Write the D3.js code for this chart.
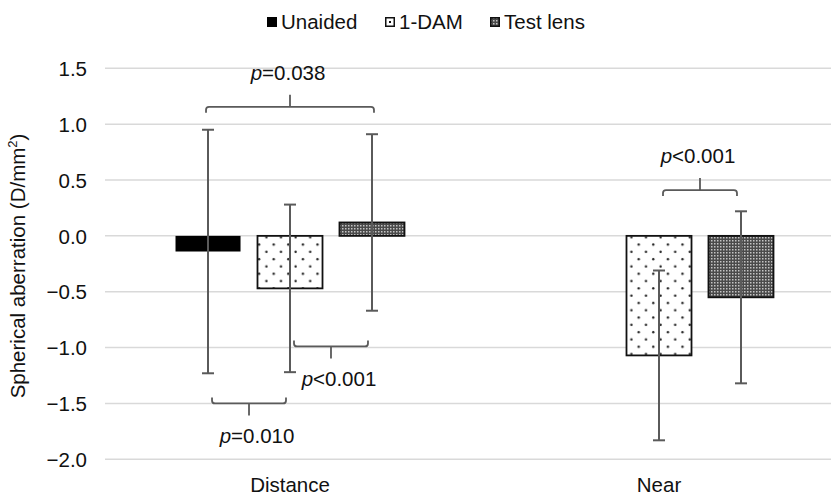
<!DOCTYPE html>
<html>
<head>
<meta charset="utf-8">
<script src="https://cdn.jsdelivr.net/npm/d3@7/dist/d3.min.js"></script>
<style>
  body { margin: 0; background: #fff; }
  text { font-family: "Liberation Sans", Arial, sans-serif; fill: #111; }
</style>
</head>
<body>
<div id="chart"></div>
<script>
// Chart data
var categories = ["Distance", "Near"];
var seriesNames = ["Unaided", "1-DAM", "Test lens"];
var unaidedMean = [-0.14, null];
var unaidedSd = [1.09, null];
var damMean = [-0.47, -1.07];
var damSd = [0.75, 0.76];
var testMean = [0.12, -0.55];
var testSd = [0.79, 0.77];
var yTicks = [-2.0, -1.5, -1.0, -0.5, 0.0, 0.5, 1.0, 1.5];

// significance brackets: category, from series, to series, level, label op, value, side
var bracketCat = ["Distance", "Distance", "Distance", "Near"];
var bracketFrom = ["Unaided", "Unaided", "1-DAM", "1-DAM"];
var bracketTo = ["Test lens", "1-DAM", "Test lens", "Test lens"];
var bracketLevel = [1.155, -1.50, -0.99, 0.41];
var bracketOp = ["=", "=", "<", "<"];
var bracketP = ["0.038", "0.010", "0.001", "0.001"];
var bracketSide = ["up", "down", "down", "up"];

var svgWidth = 831;
var svgHeight = 495;
var fontSize = "20.5px";

var svg = d3.select("#chart")
    .append("svg")
    .attr("width", svgWidth)
    .attr("height", svgHeight);

var defs = svg.append("defs");

// sparse dot pattern for 1-DAM
var dots = defs.append("pattern")
    .attr("id", "dots")
    .attr("patternUnits", "userSpaceOnUse")
    .attr("width", 14.6)
    .attr("height", 14.6);
dots.append("rect").attr("width", 14.6).attr("height", 14.6).attr("fill", "#fff");
dots.append("circle").attr("cx", 3.6).attr("cy", 3.6).attr("r", 1.2).attr("fill", "#222");
dots.append("circle").attr("cx", 10.9).attr("cy", 10.9).attr("r", 1.2).attr("fill", "#222");

// fine checker pattern for Test lens
var fine = defs.append("pattern")
    .attr("id", "fine")
    .attr("patternUnits", "userSpaceOnUse")
    .attr("width", 3)
    .attr("height", 3);
fine.append("rect").attr("width", 3).attr("height", 3).attr("fill", "#4a4a4a");
fine.append("rect").attr("width", 1.5).attr("height", 1.5).attr("fill", "#c4c4c4");

var fills = {"Unaided": "#000", "1-DAM": "url(#dots)", "Test lens": "url(#fine)"};

// Scales
var x0 = d3.scaleBand()
    .domain(categories)
    .range([105.5, 843.5])
    .paddingInner(0);

var x1 = d3.scaleBand()
    .domain(seriesNames)
    .range([0, x0.bandwidth()])
    .paddingInner(0.207)
    .paddingOuter(0.854);

var y = d3.scaleLinear()
    .domain([-2, 1.5])
    .range([459.3, 68.3]);

function cx(cat, s) {
    return x0(cat) + x1(s) + x1.bandwidth() / 2;
}

// Gridlines
svg.append("g")
    .selectAll("line")
    .data(yTicks)
    .enter()
    .append("line")
    .attr("x1", 105)
    .attr("x2", svgWidth)
    .attr("y1", d => y(d))
    .attr("y2", d => y(d))
    .attr("stroke", "#d9d9d9")
    .attr("stroke-width", 1.5);

// Y axis (labels only)
var leftAxis = d3.axisLeft(y)
    .tickValues(yTicks)
    .tickSize(0)
    .tickPadding(0)
    .tickFormat(d => d3.format(".1f")(d).replace("-", "\u2212"));

var yAxis = svg.append("g")
    .attr("transform", "translate(87, 0)")
    .call(leftAxis);
yAxis.select(".domain").remove();
yAxis.selectAll("text")
    .attr("font-size", fontSize)
    .attr("dy", "0.35em")
    .style("font-family", "Liberation Sans, Arial, sans-serif")
    .attr("fill", "#111");

// Category labels
var bottomAxis = d3.axisBottom(x0).tickSize(0).tickPadding(0);
var xAxis = svg.append("g")
    .attr("transform", "translate(0, 477)")
    .call(bottomAxis);
xAxis.select(".domain").remove();
xAxis.selectAll("text")
    .attr("font-size", fontSize)
    .attr("dy", "0.71em")
    .style("font-family", "Liberation Sans, Arial, sans-serif")
    .attr("fill", "#111");

// Y title
svg.append("text")
    .attr("transform", "translate(25, 266) rotate(-90)")
    .attr("text-anchor", "middle")
    .attr("font-size", fontSize)
    .html("Spherical aberration (D/mm<tspan dy='-8' font-size='13px'>2</tspan><tspan dy='8'>)</tspan>");

// Build rows
var rows = [];
categories.forEach(function (cat, i) {
    rows.push({cat: cat, s: "Unaided", mean: unaidedMean[i], sd: unaidedSd[i]});
    rows.push({cat: cat, s: "1-DAM", mean: damMean[i], sd: damSd[i]});
    rows.push({cat: cat, s: "Test lens", mean: testMean[i], sd: testSd[i]});
});
rows = rows.filter(d => d.mean !== null);

// Bars
svg.append("g")
    .selectAll("rect")
    .data(rows)
    .enter()
    .append("rect")
    .attr("x", d => x0(d.cat) + x1(d.s))
    .attr("width", x1.bandwidth())
    .attr("y", d => y(Math.max(0, d.mean)))
    .attr("height", d => Math.abs(y(d.mean) - y(0)))
    .attr("fill", d => fills[d.s])
    .attr("stroke", d => d.s === "Unaided" ? "none" : "#111")
    .attr("stroke-width", 1.8);

// Error bars
var errG = svg.append("g")
    .attr("stroke", "#5a5a5a")
    .attr("stroke-width", 2);
rows.forEach(function (d) {
    var c = cx(d.cat, d.s);
    var top = y(d.mean + d.sd);
    var bot = y(d.mean - d.sd);
    errG.append("line").attr("x1", c).attr("x2", c).attr("y1", top).attr("y2", bot);
    errG.append("line").attr("x1", c - 6).attr("x2", c + 6).attr("y1", top).attr("y2", top);
    errG.append("line").attr("x1", c - 6).attr("x2", c + 6).attr("y1", bot).attr("y2", bot);
});

// Significance brackets
var brG = svg.append("g");
bracketCat.forEach(function (cat, i) {
    // adjacent pairs are drawn a little inside the bar centres
    var adjacent = Math.abs(seriesNames.indexOf(bracketTo[i]) - seriesNames.indexOf(bracketFrom[i])) === 1;
    var inset = adjacent ? 4 : -2;
    var xa = cx(cat, bracketFrom[i]) + inset;
    var xb = cx(cat, bracketTo[i]) - inset;
    var yy = y(bracketLevel[i]);
    var dir = bracketSide[i] === "up" ? 1 : -1;   // direction of end hooks
    var r = 3;
    var mid = (xa + xb) / 2;
    var path = "M" + xa + "," + (yy + dir * 6) +
        " L" + xa + "," + (yy + dir * r) +
        " Q" + xa + "," + yy + " " + (xa + r) + "," + yy +
        " L" + (xb - r) + "," + yy +
        " Q" + xb + "," + yy + " " + xb + "," + (yy + dir * r) +
        " L" + xb + "," + (yy + dir * 6) +
        " M" + mid + "," + yy + " L" + mid + "," + (yy - dir * 12);
    brG.append("path")
        .attr("d", path)
        .attr("fill", "none")
        .attr("stroke", "#5a5a5a")
        .attr("stroke-width", 1.8);

    var ty = dir === 1 ? yy - 27 : yy + 40;
    var lab = brG.append("text")
        .attr("x", mid + (dir === 1 ? -2 : 8))
        .attr("y", ty)
        .attr("text-anchor", "middle")
        .attr("font-size", fontSize);
    lab.append("tspan").attr("font-style", "italic").text("p");
    lab.append("tspan").text(bracketOp[i] + bracketP[i]);
});

// Legend
var legendX = [267, 385, 490];
var legend = svg.append("g");
seriesNames.forEach(function (s, i) {
    var g = legend.append("g").attr("transform", "translate(" + legendX[i] + ", 17)");
    if (s === "1-DAM") {
        g.append("rect").attr("x", 0.75).attr("y", 0.75).attr("width", 8.5).attr("height", 8.5)
            .attr("fill", "#fff").attr("stroke", "#111").attr("stroke-width", 1.5);
        g.append("rect").attr("x", 4).attr("y", 4).attr("width", 2).attr("height", 2).attr("fill", "#111");
    } else if (s === "Test lens") {
        g.append("rect").attr("x", 0.75).attr("y", 0.75).attr("width", 8.5).attr("height", 8.5)
            .attr("fill", "url(#fine)").attr("stroke", "#111").attr("stroke-width", 1.5);
    } else {
        g.append("rect").attr("width", 10).attr("height", 10).attr("fill", "#000");
    }
    g.append("text")
        .attr("x", 14)
        .attr("y", 12)
        .attr("font-size", fontSize)
        .text(s);
});
</script>
</body>
</html>
